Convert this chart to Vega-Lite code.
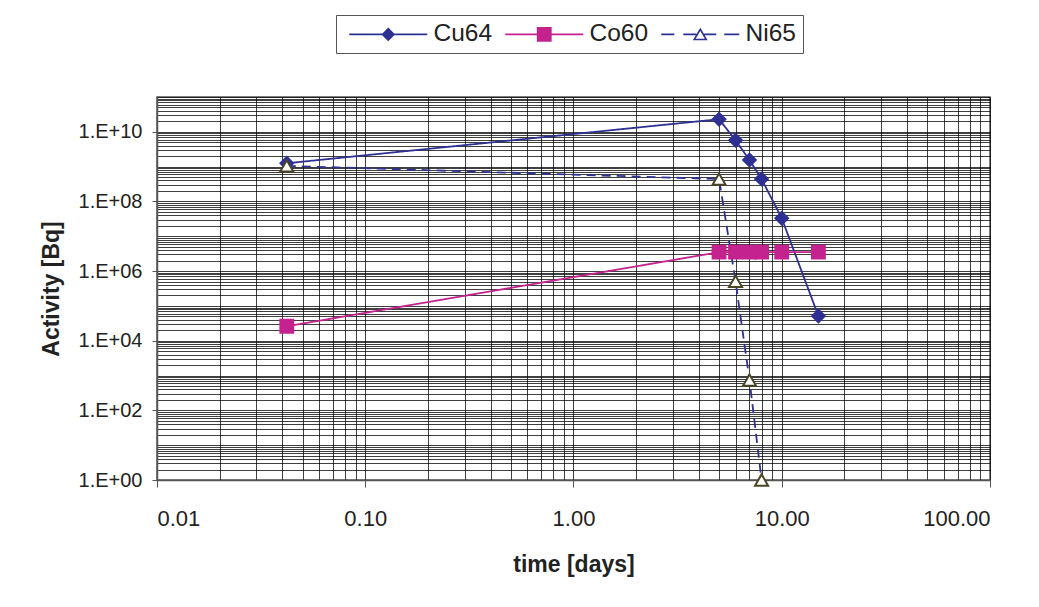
{
  "$schema": "https://vega.github.io/schema/vega-lite/v6.json",
  "width": 833,
  "height": 383,
  "autosize": {"type": "none"},
  "padding": {"left": 157, "top": 97, "right": 49, "bottom": 127},
  "background": "white",
  "config": {
    "font": "Liberation Sans",
    "view": {"stroke": "#555555", "strokeWidth": 1.5},
    "axis": {"labelColor": "#222222", "titleColor": "#222222", "labelFont": "Liberation Sans", "titleFont": "Liberation Sans"}
  },
  "data": {
    "values": [
      {"series": "Cu64", "time": 0.042, "activity": 1.25e9},
      {"series": "Cu64", "time": 5, "activity": 2.3e10},
      {"series": "Cu64", "time": 6, "activity": 5.7e9},
      {"series": "Cu64", "time": 7, "activity": 1.55e9},
      {"series": "Cu64", "time": 8, "activity": 4.4e8},
      {"series": "Cu64", "time": 10, "activity": 3.3e7},
      {"series": "Cu64", "time": 15, "activity": 5.1e4},
      {"series": "Co60", "time": 0.042, "activity": 2.6e4},
      {"series": "Co60", "time": 5, "activity": 3.5e6},
      {"series": "Co60", "time": 6, "activity": 3.5e6},
      {"series": "Co60", "time": 7, "activity": 3.5e6},
      {"series": "Co60", "time": 8, "activity": 3.5e6},
      {"series": "Co60", "time": 10, "activity": 3.5e6},
      {"series": "Co60", "time": 15, "activity": 3.5e6},
      {"series": "Ni65", "time": 0.042, "activity": 1.05e9},
      {"series": "Ni65", "time": 5, "activity": 4.4e8},
      {"series": "Ni65", "time": 6, "activity": 5.1e5},
      {"series": "Ni65", "time": 7, "activity": 740},
      {"series": "Ni65", "time": 8, "activity": 1}
    ]
  },
  "resolve": {
    "axis": {"x": "independent", "y": "independent"},
    "scale": {"shape": "independent", "stroke": "independent", "fill": "independent"},
    "legend": {"shape": "independent", "stroke": "independent", "fill": "independent"}
  },
  "layer": [
    {
      "mark": {"type": "line", "strokeWidth": 1.8},
      "encoding": {
        "x": {
          "field": "time", "type": "quantitative",
          "scale": {"type": "log", "domain": [0.01, 100], "nice": false},
          "axis": {
            "orient": "bottom", "title": null, "labels": false, "ticks": false, "domain": false,
            "grid": true, "gridColor": "#000000", "gridOpacity": 0.75, "gridWidth": 1,
            "values": [0.01,0.02,0.03,0.04,0.05,0.06,0.07,0.08,0.09,0.1,0.2,0.3,0.4,0.5,0.6,0.7,0.8,0.9,1,2,3,4,5,6,7,8,9,10,20,30,40,50,60,70,80,90,100]
          }
        },
        "y": {
          "field": "activity", "type": "quantitative",
          "scale": {"type": "log", "domain": [1, 1e11], "nice": false},
          "axis": {
            "orient": "left", "title": null, "labels": false, "ticks": false, "domain": false,
            "grid": true, "gridColor": "#000000", "gridOpacity": 0.75, "gridWidth": 1,
            "values": [1,2,3,4,5,6,7,8,9,10,20,30,40,50,60,70,80,90,100,200,300,400,500,600,700,800,900,1000,2000,3000,4000,5000,6000,7000,8000,9000,1e4,2e4,3e4,4e4,5e4,6e4,7e4,8e4,9e4,1e5,2e5,3e5,4e5,5e5,6e5,7e5,8e5,9e5,1e6,2e6,3e6,4e6,5e6,6e6,7e6,8e6,9e6,1e7,2e7,3e7,4e7,5e7,6e7,7e7,8e7,9e7,1e8,2e8,3e8,4e8,5e8,6e8,7e8,8e8,9e8,1e9,2e9,3e9,4e9,5e9,6e9,7e9,8e9,9e9,1e10,2e10,3e10,4e10,5e10,6e10,7e10,8e10,9e10,1e11]
          }
        },
        "color": {
          "field": "series", "type": "nominal",
          "scale": {"domain": ["Cu64", "Co60", "Ni65"], "range": ["#2e3192", "#c4228e", "#2e3192"]},
          "legend": null
        },
        "strokeDash": {
          "field": "series", "type": "nominal",
          "scale": {"domain": ["Cu64", "Co60", "Ni65"], "range": [[1, 0], [1, 0], [9, 6]]},
          "legend": null
        }
      }
    },
    {
      "mark": {"type": "point", "filled": true, "opacity": 1, "strokeWidth": 2},
      "encoding": {
        "x": {
          "field": "time", "type": "quantitative",
          "axis": {
            "orient": "bottom", "grid": false, "format": ".2f",
            "values": [0.01, 0.1, 1, 10, 100],
            "labelFontSize": 22, "labelPadding": 21, "tickSize": 7, "tickColor": "#555555",
            "domainColor": "#555555", "domainWidth": 1.5,
            "title": "time [days]", "titleFontSize": 23, "titleFontWeight": "bold", "titlePadding": 24
          }
        },
        "y": {
          "field": "activity", "type": "quantitative",
          "axis": {
            "orient": "left", "grid": false,
            "values": [1, 100, 1e4, 1e6, 1e8, 1e10],
            "labelExpr": "'1.E+' + (datum.value < 1e9 ? '0' : '') + round(log(datum.value)/LN10)",
            "labelFontSize": 20, "labelPadding": 10, "tickSize": 5, "tickColor": "#555555",
            "domainColor": "#555555", "domainWidth": 1.5,
            "title": "Activity [Bq]", "titleFontSize": 23, "titleFontWeight": "bold", "titlePadding": 15
          }
        },
        "shape": {
          "field": "series", "type": "nominal",
          "scale": {"domain": ["Cu64", "Co60", "Ni65"], "range": ["diamond", "square", "triangle-up"]},
          "legend": null
        },
        "fill": {
          "field": "series", "type": "nominal",
          "scale": {"domain": ["Cu64", "Co60", "Ni65"], "range": ["#2e3192", "#c4228e", "#ffffff"]},
          "legend": null
        },
        "stroke": {
          "field": "series", "type": "nominal",
          "scale": {"domain": ["Cu64", "Co60", "Ni65"], "range": ["#2e3192", "#c4228e", "#4a4526"]},
          "legend": null
        },
        "size": {
          "field": "series", "type": "nominal",
          "scale": {"domain": ["Cu64", "Co60", "Ni65"], "range": [160, 170, 150]},
          "legend": null
        }
      }
    },
    {
      "mark": {"type": "point", "filled": true, "opacity": 0, "size": 144, "strokeWidth": 1.6},
      "encoding": {
        "x": {"field": "time", "type": "quantitative", "axis": null},
        "y": {"field": "activity", "type": "quantitative", "axis": null},
        "shape": {
          "field": "series", "type": "nominal", "title": null,
          "scale": {"domain": ["Cu64", "Co60", "Ni65"], "range": [
            "M-1,0H12M5.5,-0.95L6.45,0L5.5,0.95L4.55,0Z",
            "M-1,0H12M4.4,-1.1H6.6V1.1H4.4Z",
            "M-1,0H1.17M2.67,0H4.83M6.17,0H8.17M9.5,0H12M5.5,-0.85L6.5,0.85L4.5,0.85Z"
          ]},
          "legend": {
            "orient": "none", "legendX": 179, "legendY": -82, "direction": "horizontal",
            "title": null, "labelFontSize": 24.5, "labelColor": "#222222", "labelOffset": 66,
            "symbolSize": 144, "symbolOpacity": 1, "symbolStrokeWidth": 1.6,
            "columnPadding": 6, "padding": 7, "strokeColor": "#555555", "fillColor": "#ffffff"
          }
        },
        "fill": {
          "field": "series", "type": "nominal", "title": null,
          "scale": {"domain": ["Cu64", "Co60", "Ni65"], "range": ["#2e3192", "#c4228e", "#ffffff"]}
        },
        "stroke": {
          "field": "series", "type": "nominal", "title": null,
          "scale": {"domain": ["Cu64", "Co60", "Ni65"], "range": ["#2e3192", "#c4228e", "#2e3192"]}
        }
      }
    }
  ]
}
